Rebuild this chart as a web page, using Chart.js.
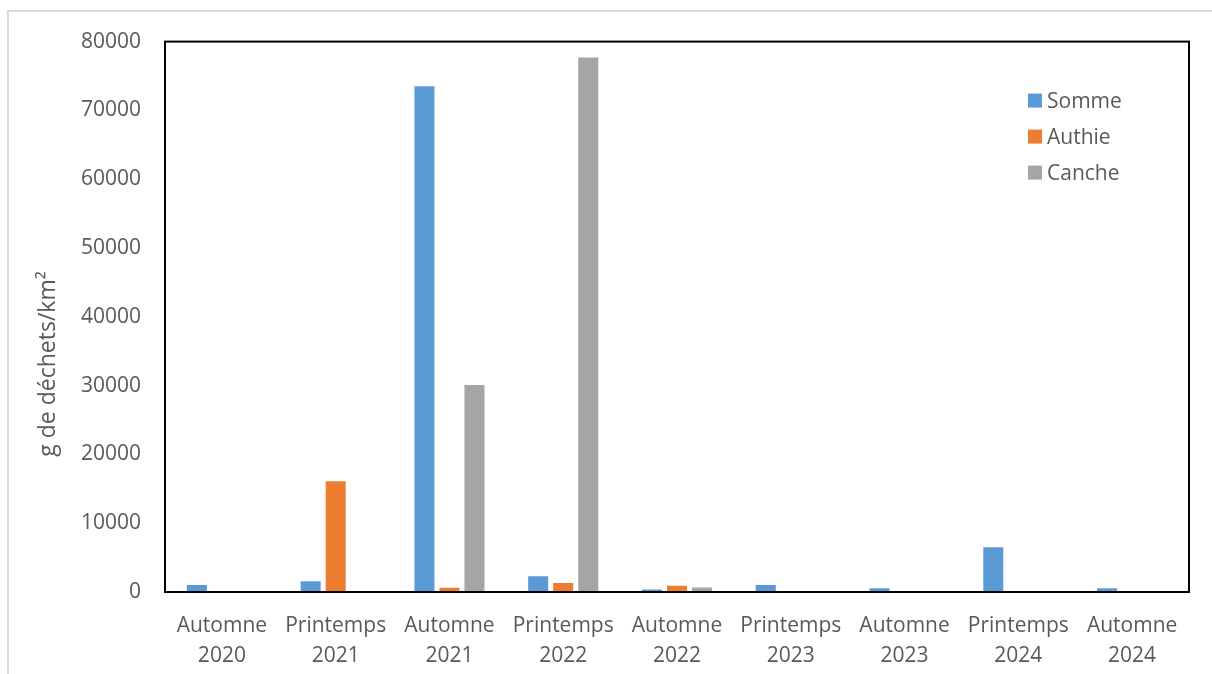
<!DOCTYPE html>
<html>
<head>
<meta charset="utf-8">
<script src="https://cdn.jsdelivr.net/npm/chart.js@4"></script>
<style>
  html, body { margin: 0; padding: 0; background: #fff; overflow: hidden; }
  #chart { position: absolute; left: 9px; top: 5px; display: block; }
  #frame {
    position: absolute; left: 7px; top: 10px;
    width: 1205px; height: 664px;
    border-left: 2px solid #d9d9d9; border-top: 2px solid #d9d9d9;
    box-sizing: border-box; pointer-events: none;
  }
</style>
</head>
<body>
<canvas id="chart" width="1203" height="669"></canvas>
<div id="frame"></div>
<script>
// saisons de prélèvement (libellés sur deux lignes)
const saisons = [
  ['Automne', '2020'], ['Printemps', '2021'], ['Automne', '2021'],
  ['Printemps', '2022'], ['Automne', '2022'], ['Printemps', '2023'],
  ['Automne', '2023'], ['Printemps', '2024'], ['Automne', '2024']
];

// g de déchets par km² pour chaque estuaire
const somme  = [1000, 1550, 73500, 2300, 350, 1000, 550, 6500, 550];
const authie = [0, 16100, 600, 1300, 900, 0, 0, 0, 0];
const canche = [0, 80, 30100, 77700, 650, 0, 0, 0, 0];

const couleurs = { somme: '#5B9BD5', authie: '#ED7D31', canche: '#A5A5A5' };
const gris = '#595959';
const police = '"Open Sans", Lato, sans-serif';
const titreY = 'g de déchets/km²';

// cadre noir autour de la zone de tracé
const cadre = {
  id: 'cadre',
  afterDatasetsDraw(chart) {
    const a = chart.chartArea, ctx = chart.ctx;
    ctx.save();
    ctx.strokeStyle = '#000';
    ctx.lineWidth = 2;
    ctx.strokeRect(a.left, a.top, a.right - a.left, a.bottom - a.top);
    ctx.restore();
  }
};

// titre vertical de l'axe des ordonnées, un peu sous le milieu
const titreAxe = {
  id: 'titreAxe',
  afterDraw(chart) {
    const ctx = chart.ctx;
    ctx.save();
    ctx.translate(39, 359);
    ctx.rotate(-Math.PI / 2);
    ctx.font = '23px ' + police;
    ctx.fillStyle = gris;
    ctx.textAlign = 'center';
    ctx.textBaseline = 'middle';
    ctx.fillText(titreY, 0, 0);
    ctx.restore();
  }
};

// légende placée dans le coin haut droit du graphique
const legendeInterne = {
  id: 'legendeInterne',
  afterDraw(chart) {
    const a = chart.chartArea, ctx = chart.ctx;
    const x = a.right - 161, y0 = a.top + 59;
    ctx.save();
    ctx.font = '21px ' + police;
    ctx.textBaseline = 'middle';
    chart.data.datasets.forEach((ds, i) => {
      const y = y0 + i * 36;
      ctx.fillStyle = ds.backgroundColor;
      ctx.fillRect(x, y - 7, 14, 14);
      ctx.fillStyle = gris;
      ctx.fillText(ds.label, x + 19, y + 1);
    });
    ctx.restore();
  }
};

new Chart(document.getElementById('chart'), {
  type: 'bar',
  data: {
    labels: saisons,
    datasets: [
      { label: 'Somme', data: somme, backgroundColor: couleurs.somme },
      { label: 'Authie', data: authie, backgroundColor: couleurs.authie },
      { label: 'Canche', data: canche, backgroundColor: couleurs.canche }
    ]
  },
  options: {
    responsive: false,
    animation: false,
    layout: { padding: { left: 0, top: 15, right: 23, bottom: 0 } },
    datasets: { bar: { categoryPercentage: 0.66, barPercentage: 0.8 } },
    plugins: { legend: { display: false }, tooltip: { enabled: false } },
    scales: {
      x: {
        grid: { display: false, drawTicks: false },
        border: { display: false },
        ticks: {
          color: gris, font: { family: police, size: 21, lineHeight: 1.43 },
          padding: 19, maxRotation: 0, autoSkip: false
        },
        afterFit(scale) { scale.height = 82; }
      },
      y: {
        min: 0, max: 80000,
        grid: { display: false, drawTicks: false },
        border: { display: false },
        ticks: {
          stepSize: 10000, color: gris, font: { family: police, size: 21 }, padding: 24,
          callback: (v) => String(v)
        },
        afterFit(scale) { scale.width = 156; }
      }
    }
  },
  plugins: [cadre, titreAxe, legendeInterne]
});
</script>
</body>
</html>
